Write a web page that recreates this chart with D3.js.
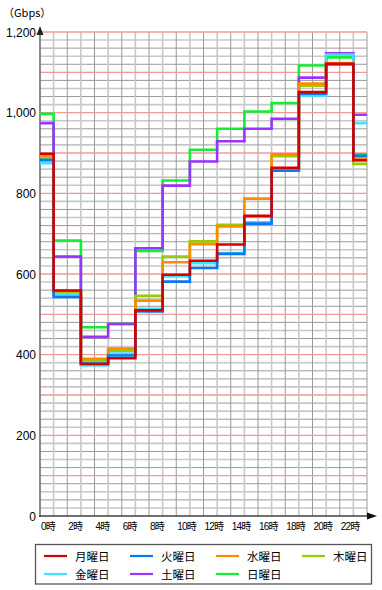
<!DOCTYPE html>
<html><head><meta charset="utf-8">
<script src="https://cdn.jsdelivr.net/npm/d3@7/dist/d3.min.js"></script>
<style>body{margin:0;background:#fff}svg{display:block}</style>
</head><body>
<svg id="c" width="382" height="590"></svg>
<script>
const hours = [0,2,4,6,8,10,12,14,16,18,20,22,24];
const seriesNames = ["月曜日","火曜日","水曜日","木曜日","金曜日","土曜日","日曜日"];
const seriesColors = ["#d40000","#0a78f0","#ff8a00","#99cc00","#44e0ff","#9933ff","#11ee33"];
const mon = [898,559,377,391,510,598,633,673,744,863,1051,1121,882];
const tue = [883,543,378,398,507,581,615,650,725,856,1047,1120,893];
const wed = [894,558,390,415,534,629,674,718,787,897,1072,1123,888];
const thu = [889,554,385,410,546,643,681,722,742,892,1067,1120,873];
const fri = [875,548,373,403,514,594,627,652,728,859,1042,1144,974];
const sat = [974,643,444,476,664,819,879,929,960,985,1087,1147,995];
const sun = [997,683,468,476,657,832,908,960,1003,1024,1117,1137,897];
const yTicks = [0,200,400,600,800,1000,1200];
const xTicks = [0,2,4,6,8,10,12,14,16,18,20,22];
const xTickLabels = xTicks.map(h => h + "時");
const unitLabel = "（Gbps）";

const allSeries = [mon,tue,wed,thu,fri,sat,sun];
const svg = d3.select("#c");
const x = d3.scaleLinear().domain([0,24]).range([40,367]);
const y = d3.scaleLinear().domain([0,1200]).range([516,32]);

// grid
const g = svg.append("g");
d3.range(20,1200,20).forEach(v => {
  if (v % 100 === 0) return;
  const dark = (v % 40 === 0);
  g.append("line").attr("x1",x(0)).attr("x2",x(24)).attr("y1",y(v)).attr("y2",y(v))
    .attr("stroke", dark ? "#9a9a9a" : "#c8c8c8").attr("stroke-width", dark ? 1 : 1.6);
});
d3.range(1,25).forEach(h => {
  const dark = (h % 2 === 0);
  g.append("line").attr("x1",x(h)).attr("x2",x(h)).attr("y1",y(0)).attr("y2",y(1200))
    .attr("stroke", dark ? "#9a9a9a" : "#c8c8c8").attr("stroke-width", dark ? 1 : 1.6);
});
d3.range(100,1201,100).forEach(v => {
  g.append("line").attr("x1",x(0)).attr("x2",x(24)).attr("y1",y(v)).attr("y2",y(v))
    .attr("stroke","#f09a9a").attr("stroke-width",1.4);
});

// axes
svg.append("line").attr("x1",x(0)).attr("x2",x(0)).attr("y1",y(0)+1).attr("y2",30)
  .attr("stroke","#707070").attr("stroke-width",1.6);
svg.append("path").attr("d",`M${x(0)},26 L${x(0)-3.5},35 L${x(0)+3.5},35 Z`).attr("fill","#222");
svg.append("line").attr("x1",x(0)-1).attr("x2",370).attr("y1",y(0)).attr("y2",y(0))
  .attr("stroke","#404040").attr("stroke-width",1.6);
svg.append("path").attr("d",`M377,${y(0)} L367,${y(0)-3.5} L367,${y(0)+3.5} Z`).attr("fill","#111");

// data lines
const line = d3.line().x((d,i)=>x(hours[i])).y(d=>y(d)).curve(d3.curveStep);
for (let k = allSeries.length-1; k >= 0; k--) {
  svg.append("path").datum(allSeries[k]).attr("d",line).attr("fill","none")
    .attr("stroke",seriesColors[k]).attr("stroke-width",2.6);
}

// labels
const font = "'Liberation Sans', Arial, 'Noto Sans CJK JP', sans-serif";
svg.append("g").selectAll("text").data(yTicks).join("text")
  .attr("x",36).attr("y",d=>y(d)+4.5).attr("text-anchor","end")
  .attr("font-family",font).attr("font-size",12).attr("letter-spacing",0)
  .text(d=>d3.format(",")(d));
svg.append("g").selectAll("text").data(xTicks).join("text")
  .attr("x",d=>x(d)+1).attr("y",529.5).attr("text-anchor","start")
  .attr("font-family",font).attr("font-size",10).attr("letter-spacing",-0.8)
  .text((d,i)=>xTickLabels[i]);
svg.append("text").attr("x",3).attr("y",17).attr("font-family","'Noto Sans CJK JP', sans-serif")
  .attr("font-size",11).text(unitLabel);

// legend
svg.append("rect").attr("x",35.5).attr("y",544.5).attr("width",336).attr("height",39.5)
  .attr("fill","#fff").attr("stroke","#555").attr("stroke-width",1.3);
seriesNames.forEach((n,i) => {
  const col = i % 4, row = Math.floor(i/4);
  const lx = 44 + col*86, ly = 556 + row*18;
  svg.append("line").attr("x1",lx).attr("x2",lx+23).attr("y1",ly).attr("y2",ly)
    .attr("stroke",seriesColors[i]).attr("stroke-width",2.2);
  svg.append("text").attr("x",lx+31).attr("y",ly+4.5).attr("font-family","'Noto Sans CJK JP', sans-serif")
    .attr("font-size",11.5).text(n);
});
</script>
</body></html>
